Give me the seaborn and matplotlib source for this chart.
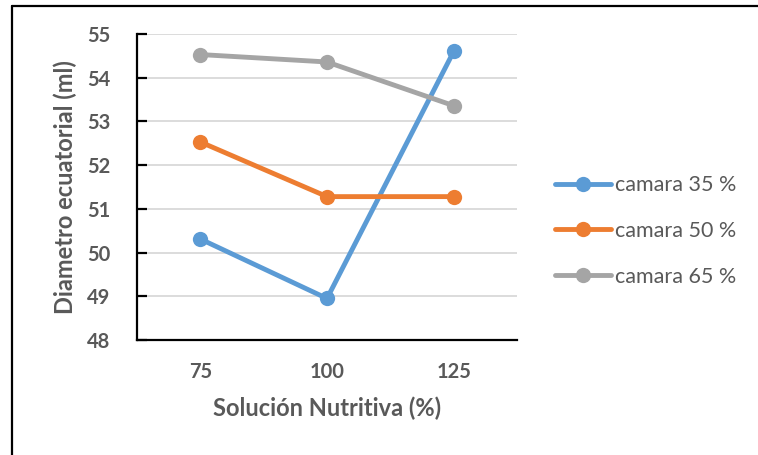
import pandas as pd
import matplotlib.pyplot as plt
from matplotlib.lines import Line2D
import seaborn as sb

categorias = ['75', '100', '125']
camara_35 = [50.31, 48.95, 54.60]
camara_50 = [52.53, 51.28, 51.28]
camara_65 = [54.53, 54.36, 53.36]
series = ['camara 35 %', 'camara 50 %', 'camara 65 %']
colores = ['#5B9BD5', '#ED7D31', '#A5A5A5']

data = pd.DataFrame({
    'Solucion': categorias * 3,
    'Diametro': camara_35 + camara_50 + camara_65,
    'Serie': [s for s in series for _ in categorias],
})

sb.set_style('white')
plt.rcParams['font.family'] = ['Lato', 'DejaVu Sans']
gris = '#595959'

fig = plt.figure(figsize=(7.58, 4.55), dpi=100)
ax = fig.add_axes([137 / 758, 1 - 340 / 455, 380 / 758, 306 / 455])

sb.lineplot(data=data, x='Solucion', y='Diametro', hue='Serie', palette=colores,
            marker='o', markersize=11, markeredgewidth=0, linewidth=3.5,
            sort=False, ax=ax)

ax.set_xlim(-0.5, 2.5)
ax.set_ylim(48, 55)
ax.set_yticks(range(48, 56))
ax.yaxis.grid(True, color='#D9D9D9', linewidth=1.3)
ax.set_axisbelow(True)

for side in ['top', 'right']:
    ax.spines[side].set_visible(False)
for side in ['left', 'bottom']:
    ax.spines[side].set_color('black')
    ax.spines[side].set_linewidth(1.6)

ax.set_xticks([-0.5, 0.5, 1.5, 2.5], minor=True)
ax.tick_params(axis='x', which='minor', direction='in', length=6, width=1.6, color='black')
ax.tick_params(axis='x', which='major', length=0, pad=16, labelsize=14.5, labelcolor=gris)
ax.tick_params(axis='y', direction='in', length=7, width=1.6, color='black',
               pad=19, labelsize=14.5, labelcolor=gris, left=True)
for lbl in ax.get_xticklabels() + ax.get_yticklabels():
    lbl.set_fontweight('bold')

ax.set_xlabel('Solución Nutritiva (%)', fontsize=17, fontweight='bold', color=gris, labelpad=10)
ax.set_ylabel('Diametro ecuatorial (ml)', fontsize=17, fontweight='bold', color=gris, labelpad=7)

ax.legend(loc='center left', bbox_to_anchor=(555 / 758, 1 - 231 / 455),
          bbox_transform=fig.transFigure, frameon=False, fontsize=15.5,
          labelcolor=gris, handlelength=2.6, handletextpad=0.2,
          labelspacing=1.2, borderpad=0, borderaxespad=0)

# marco exterior (solo se ve arriba y a la izquierda)
fig.add_artist(Line2D([12 / 758, 12 / 758], [0, 1 - 5.5 / 455], color='black', linewidth=1.6,
                      transform=fig.transFigure))
fig.add_artist(Line2D([12 / 758, 1], [1 - 5.5 / 455, 1 - 5.5 / 455], color='black', linewidth=1.6,
                      transform=fig.transFigure))

fig.savefig('out.png', dpi=100)
